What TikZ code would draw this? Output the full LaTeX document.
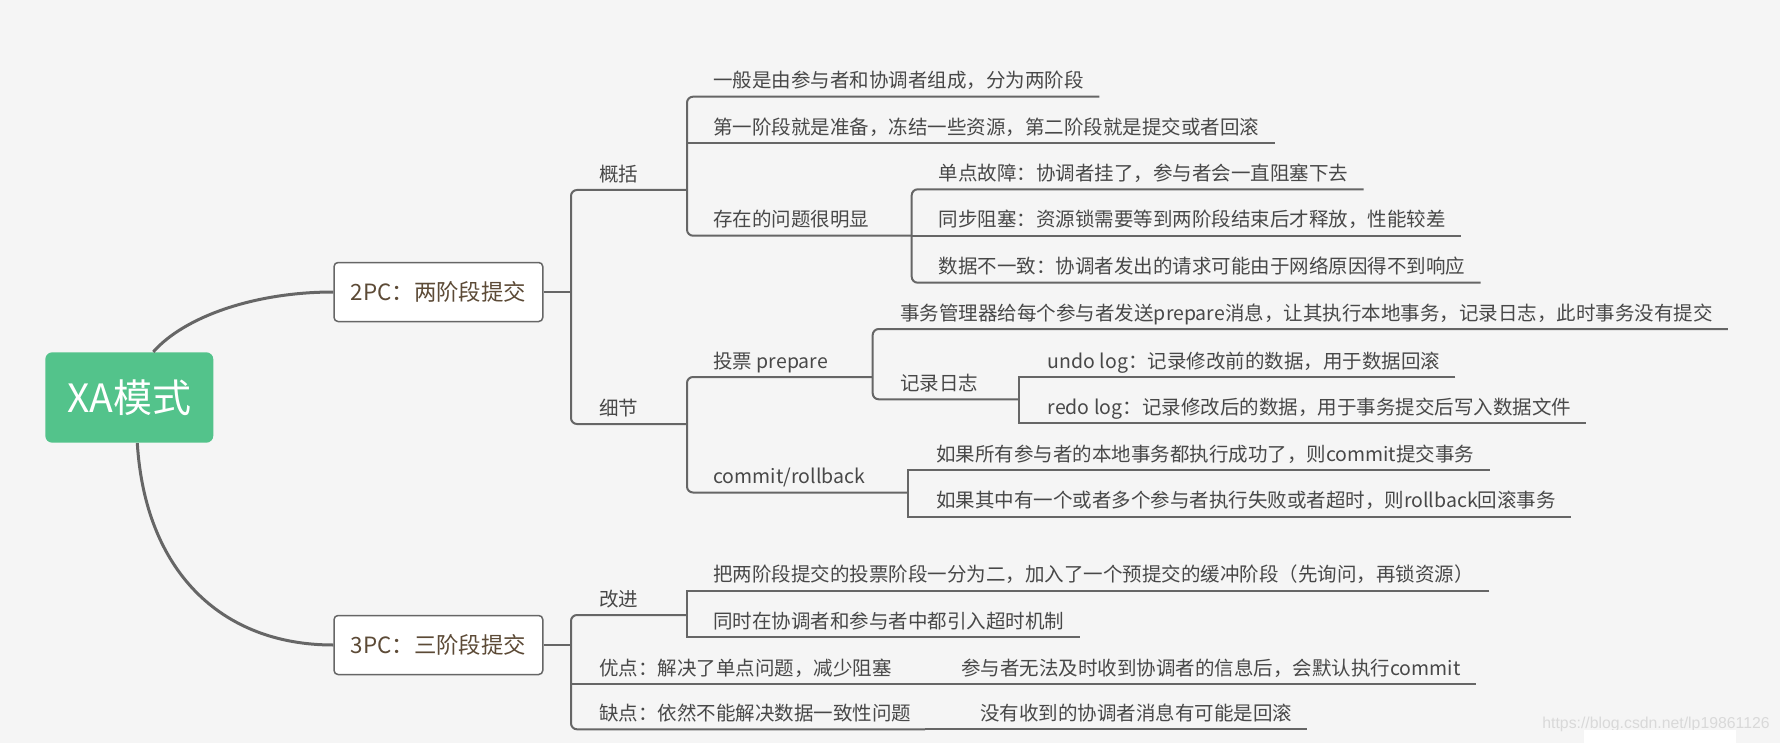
\documentclass[tikz,border=0pt]{standalone}
\usepackage{fontspec}
\setmainfont{Noto Sans CJK SC}
\newfontfamily\wmfont{Liberation Sans}
\definecolor{bgc}{HTML}{F5F5F5}
\definecolor{linec}{HTML}{666666}
\definecolor{rootc}{HTML}{53C38B}
\definecolor{leafc}{HTML}{484848}
\definecolor{boxc}{HTML}{5C4A36}
\begin{document}
\begin{tikzpicture}[x=0.5pt,y=-0.5pt,
  leaf/.style={anchor=south west,inner sep=0pt,text depth=4.2pt,text=leafc,font=\fontsize{9.75pt}{12pt}\selectfont},
  box/.style={draw=linec,line width=0.75pt,fill=white,rounded corners=2pt,minimum width=104.35pt,minimum height=29.5pt,inner sep=0pt,text=boxc,font=\fontsize{11.2pt}{13pt}\selectfont},
  root/.style={fill=rootc,rounded corners=3.5pt,minimum width=84pt,minimum height=45.2pt,inner sep=0pt,text=white,font=\fontsize{19.5pt}{22pt}\selectfont},
  ln/.style={draw=linec,line width=1pt},
  br/.style={ln,rounded corners=3pt},
  curve/.style={draw=linec,line width=1.5pt}]
\fill[bgc] (0,0) rectangle (1780,743);
\useasboundingbox (0,0) rectangle (1780,743);
% root and the two protocols
\node[root] (xa) at (129.3,397.5) {XA模式};
\node[box] (p2) at (438.4,292) {2PC：两阶段提交};
\node[box] (p3) at (438.4,645) {3PC：三阶段提交};
\draw[curve] ([xshift=12pt]xa.north) .. controls (184,317) and (254,292) .. (p2.west);
\draw[curve] ([xshift=4pt]xa.south) .. controls (145,570) and (220,645) .. (p3.west);
% 2PC
\coordinate (j2) at (571,292); \draw[ln] (p2.east) -- (j2);
\node[leaf] (gk) at (599,190) {概括}; \coordinate (kg) at (687,190);
\node[leaf] (xj) at (599,424) {细节}; \coordinate (kx) at (687,424);
\draw[br] (kg) -- (kg -| j2) -- (kx -| j2) -- (kx);
\node[leaf] (g1) at (713,96.7) {一般是由参与者和协调者组成，分为两阶段};
\node[leaf] (g2) at (713,143.3) {第一阶段就是准备，冻结一些资源，第二阶段就是提交或者回滚};
\node[leaf] (g3) at (713,235.7) {存在的问题很明显}; \coordinate (kc) at (911.7,235.7);
\draw[br] ([xshift=7.5pt]g1.south east) -- (g1.south -| kg) -- (g3.south -| kg) -- (kc);
\draw[ln] (g2.south -| kg) -- ([xshift=7.5pt]g2.south east);
\node[leaf] (c1) at (938.3,189.3) {单点故障：协调者挂了，参与者会一直阻塞下去};
\node[leaf] (c2) at (938.3,235.7) {同步阻塞：资源锁需要等到两阶段结束后才释放，性能较差};
\node[leaf] (c3) at (938.3,282.7) {数据不一致：协调者发出的请求可能由于网络原因得不到响应};
\draw[br] ([xshift=7.5pt]c1.south east) -- (c1.south -| kc) -- (c3.south -| kc) -- ([xshift=7.5pt]c3.south east);
\draw[ln] (kc) -- ([xshift=7.5pt]c2.south east);
\node[leaf] (tp) at (713,377) {投票 prepare}; \coordinate (kt) at (872.7,377);
\node[leaf] (cr) at (713,492.5) {commit/rollback}; \coordinate (kr) at (908.3,492.5);
\draw[br] (kt) -- (tp.south -| kx) -- (cr.south -| kx) -- (kr);
\node[leaf] (sw) at (900,329) {事务管理器给每个参与者发送prepare消息，让其执行本地事务，记录日志，此时事务没有提交};
\node[leaf] (jl) at (900,399.3) {记录日志}; \coordinate (kj) at (1019.3,399.3);
\draw[br] ([xshift=7.5pt]sw.south east) -- (sw.south -| kt) -- (jl.south -| kt) -- (kj);
\node[leaf] (ud) at (1047.3,377.3) {undo log：记录修改前的数据，用于数据回滚};
\node[leaf] (rd) at (1047.3,423.3) {redo log：记录修改后的数据，用于事务提交后写入数据文件};
\draw[ln] ([xshift=7.5pt]ud.south east) -- (ud.south -| kj) -- (rd.south -| kj) -- ([xshift=7.5pt]rd.south east);
\node[leaf] (r1) at (935.7,470) {如果所有参与者的本地事务都执行成功了，则commit提交事务};
\node[leaf] (r2) at (935.7,516.7) {如果其中有一个或者多个参与者执行失败或者超时，则rollback回滚事务};
\draw[ln] ([xshift=7.5pt]r1.south east) -- (r1.south -| kr) -- (r2.south -| kr) -- ([xshift=7.5pt]r2.south east);
% 3PC
\coordinate (j3) at (571,645); \draw[ln] (p3.east) -- (j3);
\node[leaf] (gj) at (599,615) {改进}; \coordinate (kg3) at (686.7,615);
\node[leaf] (yd) at (599,684) {优点：解决了单点问题，减少阻塞}; \coordinate (ky) at (906,684);
\node[leaf] (qd) at (599,729.3) {缺点：依然不能解决数据一致性问题}; \coordinate (kq) at (925,729.3);
\draw[br] (kg3) -- (gj.south -| j3) -- (qd.south -| j3) -- (kq);
\draw[ln] (yd.south -| j3) -- (ky);
\node[leaf] (h1) at (713,590.7) {把两阶段提交的投票阶段一分为二，加入了一个预提交的缓冲阶段（先询问，再锁资源）};
\node[leaf] (h2) at (713,637.3) {同时在协调者和参与者中都引入超时机制};
\draw[ln] ([xshift=7.5pt]h1.south east) -- (h1.south -| kg3) -- (h2.south -| kg3) -- ([xshift=7.5pt]h2.south east);
\node[leaf] (yc) at (961,684) {参与者无法及时收到协调者的信息后，会默认执行commit};
\draw[ln] (ky) -- ([xshift=7.5pt]yc.south east);
\node[leaf] (qc) at (979.6,729.3) {没有收到的协调者消息有可能是回滚};
\draw[ln] (kq) -- ([xshift=7.5pt]qc.south east);
% watermark
\node[anchor=base west,inner sep=0pt,text=black!15,font=\wmfont\fontsize{7.9pt}{9pt}\selectfont] (wm) at (1542,728) {https://blog.csdn.net/lp19861126};
\fill[white] (1584,730) rectangle (1736,743);
\end{tikzpicture}
\end{document}
